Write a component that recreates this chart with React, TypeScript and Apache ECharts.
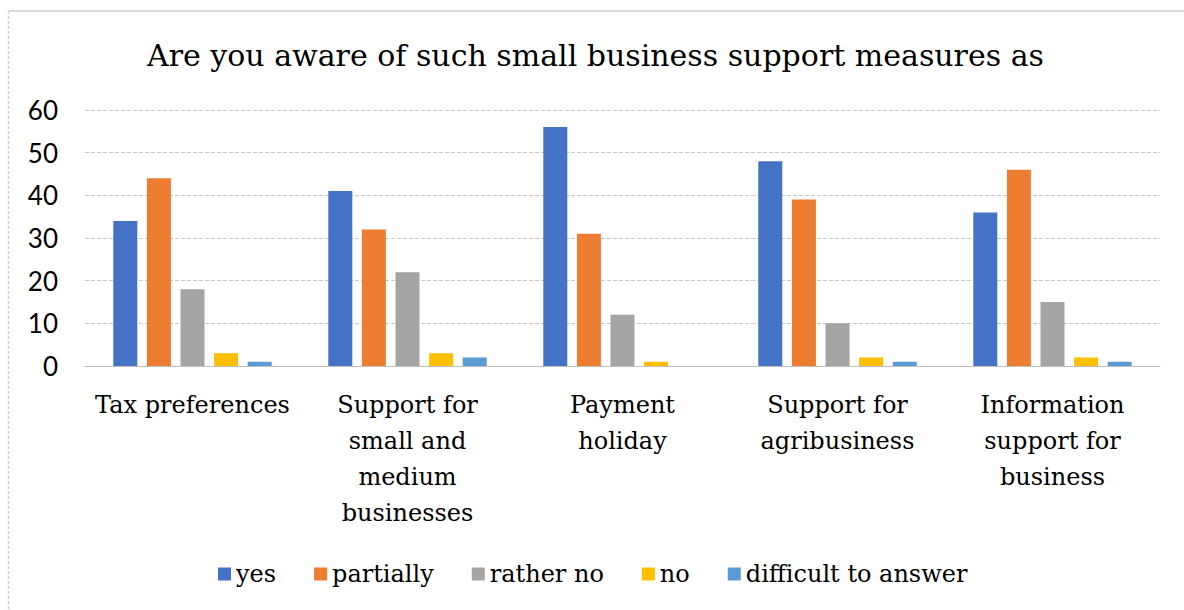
import React, { useEffect, useRef } from "react";
import * as echarts from "echarts";

const titleText = "Are you aware of such small business support measures as";
const categories = [
  "Tax preferences",
  "Support for\nsmall and\nmedium\nbusinesses",
  "Payment\nholiday",
  "Support for\nagribusiness",
  "Information\nsupport for\nbusiness",
];
const seriesNames = ["yes", "partially", "rather no", "no", "difficult to answer"];
const yesValues = [34, 41, 56, 48, 36];
const partiallyValues = [44, 32, 31, 39, 46];
const ratherNoValues = [18, 22, 12, 10, 15];
const noValues = [3, 3, 1, 2, 2];
const difficultValues = [1, 2, 0, 1, 1];
const colors = ["#4472C4", "#ED7D31", "#A5A5A5", "#FFC000", "#5B9BD5"];
const yTicks = { min: 0, max: 60, interval: 10 };

const SERIF = "'DejaVu Serif', serif";

export default function App() {
  const ref = useRef<HTMLDivElement>(null);
  useEffect(() => {
    if (!ref.current) return;
    const chart = echarts.init(ref.current, null, { renderer: "svg" });
    const allValues = [yesValues, partiallyValues, ratherNoValues, noValues, difficultValues];
    chart.setOption({
      animation: false,
      backgroundColor: "#ffffff",
      color: colors,
      textStyle: { fontFamily: SERIF },
      title: {
        text: titleText,
        left: 147,
        top: 40,
        padding: 0,
        textStyle: { fontFamily: SERIF, fontSize: 30, fontWeight: "normal", color: "#000" },
      },
      legend: {
        data: seriesNames,
        left: 218,
        top: 562,
        padding: 0,
        itemWidth: 13,
        itemHeight: 13,
        itemGap: 38,
        icon: "rect",
        textStyle: {
          fontFamily: SERIF,
          fontSize: 24,
          fontWeight: "normal",
          color: "#000",
        },
      },
      grid: { left: 85, right: 24, top: 110, bottom: 244, containLabel: false },
      xAxis: {
        type: "category",
        data: categories,
        axisLine: { show: true, lineStyle: { color: "#bfbfbf", width: 1 } },
        axisTick: { show: false },
        axisLabel: {
          interval: 0,
          margin: 21,
          fontFamily: SERIF,
          fontSize: 24,
          lineHeight: 36,
          color: "#000",
          align: "center",
        },
      },
      yAxis: {
        type: "value",
        min: yTicks.min,
        max: yTicks.max,
        interval: yTicks.interval,
        axisLine: { show: false },
        axisTick: { show: false },
        axisLabel: { margin: 27, fontFamily: "Lato", fontSize: 26, color: "#000" },
        splitLine: { show: true, lineStyle: { color: "#c9c9c9", type: [4, 2], width: 1 } },
      },
      series: seriesNames.map((name, i) => ({
        name,
        type: "bar",
        data: allValues[i],
        barWidth: 24,
        barGap: "40%",
        itemStyle: { color: colors[i] },
      })),
      graphic: [
        {
          type: "line",
          shape: { x1: 8.5, y1: 11, x2: 8.5, y2: 610 },
          style: { stroke: "#d0d0d0", lineWidth: 1.5, lineDash: [3, 2] },
          silent: true,
        },
        {
          type: "line",
          shape: { x1: 8, y1: 11, x2: 1184, y2: 11 },
          style: { stroke: "#d9d9d9", lineWidth: 2 },
          silent: true,
        },
      ],
    });
    return () => chart.dispose();
  }, []);
  return (
    <div
      ref={ref}
      style={{ position: "fixed", left: 0, top: 0, width: 1184, height: 610 }}
    />
  );
}
